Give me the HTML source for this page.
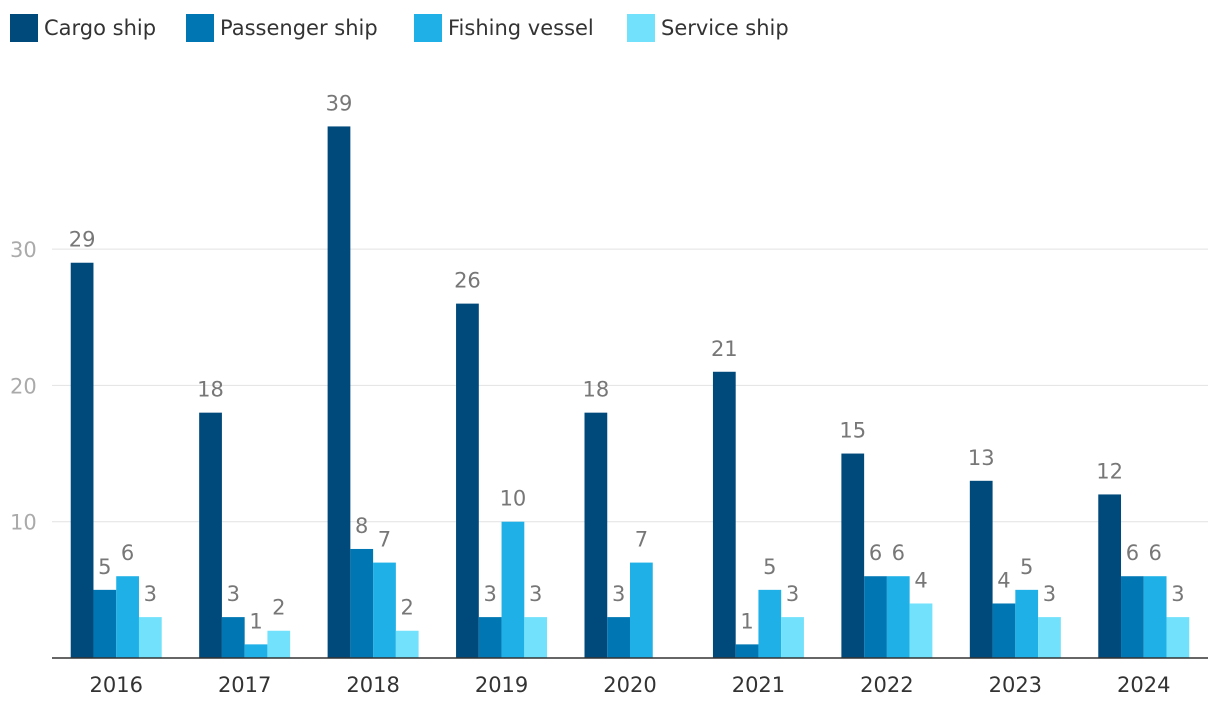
<!DOCTYPE html>
<html><head><meta charset="utf-8">
<style>
html,body{margin:0;padding:0;background:#fff;width:1220px;height:716px;overflow:hidden;font-family:"DejaVu Sans","Liberation Sans",sans-serif;}
.li{position:absolute;top:14px;display:flex;align-items:center;font-size:21px;color:#333;height:28px;white-space:nowrap;}
.sw{width:28px;height:28px;margin-right:6px;}
</style></head><body>
<div>
<div class="li" style="left:10px"><div class="sw" style="background:#00497b"></div>Cargo ship</div>
<div class="li" style="left:186px"><div class="sw" style="background:#0077b2"></div>Passenger ship</div>
<div class="li" style="left:414px"><div class="sw" style="background:#1eb0e6"></div>Fishing vessel</div>
<div class="li" style="left:627px"><div class="sw" style="background:#72e2fc"></div>Service ship</div>
</div>
<svg id="chart" width="1220" height="716" style="position:absolute;left:0;top:0"></svg>
<script>
const years=["2016","2017","2018","2019","2020","2021","2022","2023","2024"];
const cargo=[29,18,39,26,18,21,15,13,12];
const passenger=[5,3,8,3,3,1,6,4,6];
const fishing=[6,1,7,10,7,5,6,5,6];
const service=[3,2,2,3,0,3,4,3,3];
const yTicks=[10,20,30];
const colors=["#00497b","#0077b2","#1eb0e6","#72e2fc"];
const seriesNames=["cargo","passenger","fishing","service"];
const series=[cargo,passenger,fishing,service];
const svg=document.getElementById('chart');
const NS="http://www.w3.org/2000/svg";
const x0=52,x1=1208,y0=658,ppu=13.63,bw=22.75;
const gw=(x1-x0)/years.length;
function y(v){return y0-v*ppu;}
function gx(i){return x0+gw*(i+0.5);}
function mk(t,a){const e=document.createElementNS(NS,t);for(const k in a)e.setAttribute(k,a[k]);svg.appendChild(e);return e;}
yTicks.forEach(t=>{
  const l=mk('line',{x1:x0,x2:x1,y1:y(t),y2:y(t),stroke:'#e2e2e2','stroke-width':1});
  
  
  const tx=mk('text',{x:10,y:y(t)+8,fill:'#aaa','font-size':21,'font-family':'DejaVu Sans'});
  tx.textContent=t;
  
  
});
years.forEach((yr,i)=>{
  series.forEach((s,j)=>{
    const v=s[i];
    if(v<=0)return;
    const bx=gx(i)-2*bw+j*bw;
    const r=mk('rect',{x:bx,y:y(v),width:bw,height:v*ppu,fill:colors[j]});
    
    
    const t=mk('text',{x:bx+bw/2,y:y(v)-16,fill:'#777','font-size':21,'text-anchor':'middle','font-family':'DejaVu Sans'});
    t.textContent=v;
    
    
  });
  const t=mk('text',{x:gx(i),y:692,fill:'#333','font-size':21,'text-anchor':'middle','font-family':'DejaVu Sans'});
  t.textContent=yr;
  
  
});
const ax=mk('line',{x1:x0,x2:x1,y1:y0,y2:y0,stroke:'#333','stroke-width':1.5});


</script>
</body></html>
